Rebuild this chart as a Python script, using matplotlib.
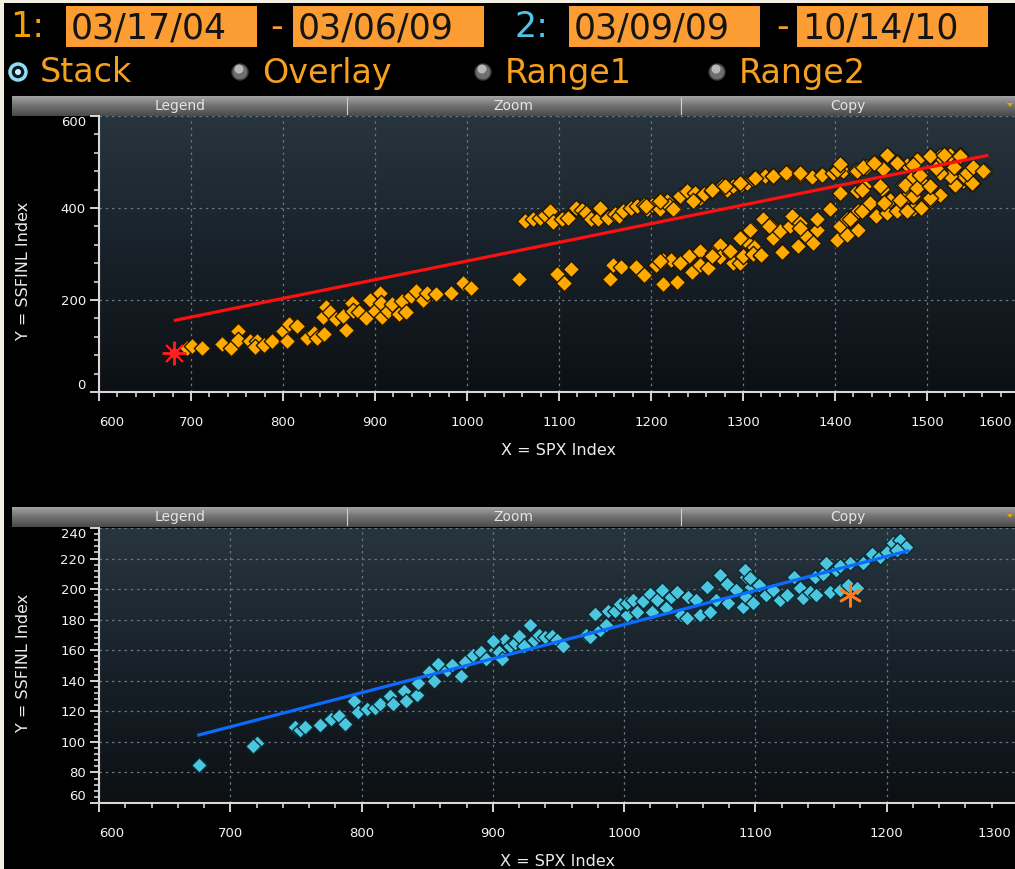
import numpy as np
import matplotlib
matplotlib.use('Agg')
import matplotlib.pyplot as plt
import matplotlib.transforms as mtransforms
from matplotlib.patches import Rectangle, Circle, Polygon
from matplotlib.colors import LinearSegmentedColormap

# header values
range1 = ['03/17/04', '03/06/09']
range2 = ['03/09/09', '10/14/10']
modes = ['Stack', 'Overlay', 'Range1', 'Range2']
bar_labels = ['Legend', 'Zoom', 'Copy']
x_label = 'X = SPX Index'
y_label = 'Y = SSFINL Index'

# range 1: SPX vs SSFINL, 03/17/04 - 03/06/09
spx1 = [696, 701, 712, 734, 743, 751, 751, 764, 772, 770, 779, 788, 800, 804, 807, 815, 826, 834,
        837, 845, 844, 847, 851, 858, 865, 869, 875, 876, 883, 890, 895, 900, 905, 907, 908, 914,
        918, 926, 929, 934, 939, 945, 952, 956, 966, 983, 996, 1004, 1056,
        1098, 1105, 1113, 1155, 1159, 1167, 1184, 1192, 1205, 1213, 1213, 1228, 1222, 1233, 1241,
        1245, 1253, 1253, 1262, 1267, 1275, 1275, 1286, 1289, 1297, 1300, 1309, 1311,
        1297, 1300, 1302, 1308, 1311, 1320, 1322, 1329, 1333, 1340, 1342, 1351, 1353, 1360, 1362,
        1369, 1376, 1380, 1380, 1395, 1402, 1405, 1413, 1413, 1425, 1425, 1434, 1445, 1456, 1467,
        1485, 1494, 1405, 1424, 1431, 1451, 1460, 1474, 1478, 1483, 1496, 1503, 1514, 1529, 1539,
        1548, 1550, 1540,
        1210, 1232, 1266, 1320, 1328, 1362, 1416, 1429, 1438, 1453, 1471, 1485, 1503, 1429, 1449,
        1476, 1489, 1503, 1530, 1549, 1543, 1525, 1514, 1492, 1266, 1286, 1297, 1342, 1478,
        1063, 1072, 1079, 1085, 1090, 1094, 1103, 1110, 1119, 1125, 1129, 1135, 1142, 1145, 1153,
        1161, 1165, 1170, 1178, 1185, 1192, 1196, 1201, 1210, 1217, 1220, 1226, 1232, 1239, 1248,
        1253, 1258, 1266, 1277, 1283, 1289, 1298, 1304, 1311, 1313, 1324, 1333, 1349, 1362, 1375,
        1386, 1398, 1409, 1422, 1434, 1443, 1452, 1456, 1467, 1478, 1489, 1503, 1510, 1514, 1525,
        1529, 1536, 1550, 1563, 1561,
        1195, 1210, 1224, 1246, 1266, 1280, 1297, 1313, 1333, 1347, 1362, 1402, 1405, 1424, 1430,
        1442, 1456, 1467, 1485, 1503, 1518, 1536]
fin1 = [95, 100, 95, 104, 95, 133, 113, 111, 111, 97, 102, 111, 133, 111, 147, 144, 118, 129,
        118, 126, 162, 184, 173, 158, 165, 135, 194, 176, 173, 160, 201, 176, 216, 194, 162, 176,
        191, 169, 198, 173, 209, 219, 201, 216, 212, 216, 236, 225, 246,
        256, 238, 268, 245, 277, 272, 272, 254, 277, 234, 287, 239, 287, 281, 295,
        261, 306, 277, 270, 303, 319, 294, 303, 280, 337, 294, 355, 317,
        281, 295, 331, 353, 299, 295, 375, 364, 335, 350, 306, 360, 382, 317, 368,
        339, 324, 353, 375, 398, 331, 360, 342, 375, 353, 393, 400, 382, 389, 393,
        397, 400, 433, 436, 447, 441, 418, 451, 425, 462, 454, 418, 429, 451, 458,
        454, 455, 470,
        285, 281, 295, 297, 360, 357, 375, 393, 411, 411, 418, 425, 422, 440, 447,
        451, 444, 447, 451, 454, 476, 469, 476, 472, 295, 306, 335, 304, 393,
        371, 375, 379, 385, 393, 369, 375, 379, 400, 395, 389, 375, 376, 400, 379,
        388, 382, 393, 400, 404, 407, 398, 407, 397, 415, 405, 397, 425, 436, 433,
        422, 430, 436, 447, 440, 447, 451, 454, 462, 465, 469, 470, 476, 472, 467,
        472, 476, 480, 480, 490, 498, 485, 512, 499, 494, 505, 512, 487, 512, 516,
        490, 516, 490, 480, 480,
        404, 415, 397, 415, 440, 447, 454, 465, 469, 476, 476, 483, 495, 480, 490,
        498, 516, 498, 494, 512, 516, 512]
fit1_x = [683, 1565]
fit1_y = [156, 514]
last1_x, last1_y = 681, 84

# range 2: SPX vs SSFINL, 03/09/09 - 10/14/10
spx2 = [676, 720, 717.5, 749, 753, 757, 768, 777, 783, 787, 794, 797, 804, 810, 814, 822, 824,
        832, 834, 842, 843, 851, 855, 858, 865, 869, 876, 879, 885, 891, 895, 902, 905, 909, 907,
        900, 913, 917, 920, 924, 928, 931, 935, 940, 945, 948.5, 953.5, 971, 974, 978, 981.5,
        986.5, 988, 993, 997, 1002, 1002, 1007, 1009.5, 1014.5, 1019.5, 1021, 1025, 1028.5, 1032,
        1036, 1040, 1043.5, 1047.5, 1049, 1055, 1058, 1063, 1065.5, 1070, 1073, 1078, 1079,
        1085.5, 1090.5, 1093, 1097, 1092, 1096, 1093, 1098, 1103, 1108, 1113.5, 1118.5, 1124,
        1129, 1134, 1136.5, 1141.5, 1146.5, 1145, 1151.5, 1157, 1164.5, 1170.5, 1177, 1161.5,
        1172, 1182, 1188.5, 1195, 1200, 1205, 1210, 1215, 1207.5, 1154, 1164.5]
fin2 = [85, 99.5, 97, 110, 108, 110, 111, 115, 117, 112, 127, 119.5, 121.5, 122, 124.5, 130, 124.5,
        133, 126.5, 131, 138.5, 146, 140, 151, 147, 150.5, 143, 152.5, 157, 159, 154, 160, 159, 167, 154,
        166, 162.5, 164.5, 169.5, 162.5, 176.5, 167, 170, 168.5, 169.5, 167, 162.5, 170, 168.5, 184, 173,
        176.5, 186, 186, 190, 183, 191, 193, 185, 192, 197, 185, 193, 199.5, 187.5,
        195, 198, 183, 181, 195, 193, 183, 201.5, 185, 193, 209, 203.5, 191,
        199.5, 188.5, 208, 201.5, 212.5, 207, 195, 191, 202.5, 196, 199.5, 193, 196,
        208, 200.5, 194, 198, 196, 208, 210, 198, 199.5, 202.5, 200.5, 212.5,
        217, 217, 223, 221, 224, 230, 232, 227.5, 225.5, 217, 215]
fit2_x = [676, 1216]
fit2_y = [104.5, 225]
last2_x, last2_y = 1172, 196

W, H = 1015, 869
fig = plt.figure(figsize=(W / 100, H / 100), dpi=100, facecolor='black')

# overlay in pixel coordinates for the terminal chrome
bg = fig.add_axes([0, 0, 1, 1])
bg.axis('off')

bg.add_patch(Rectangle((0, 0), 4, H, fc='#f3efe2', ec='none'))
bg.add_patch(Rectangle((0, 0), W, 3, fc='#f3efe2', ec='none'))

box_orange = '#fb9d33'
hdr_font = dict(fontsize=25, va='center', family='DejaVu Sans')
bg.text(10, 27, '1:', color='#f0a200', **hdr_font)
bg.text(515, 27, '2:', color='#4fc3e8', **hdr_font)
for x0, txt in zip([66, 293, 569, 797], range1 + range2):
    bg.add_patch(Rectangle((x0, 6), 191, 41, fc=box_orange, ec='none'))
    bg.text(x0 + 5, 28, txt, color='#141414', **hdr_font)
for xd in [270, 776]:
    bg.text(xd, 27, '-', color=box_orange, **hdr_font)

# radio buttons
radio_x = [18, 240, 483, 717]
for i, (rx, name) in enumerate(zip(radio_x, modes)):
    if i == 0:
        bg.add_patch(Circle((rx, 72), 8, fc='#0b1820', ec='#8fdcf5', lw=2.5))
        bg.add_patch(Circle((rx, 72), 3, fc='#c9eefa', ec='none'))
    else:
        bg.add_patch(Circle((rx, 72), 8, fc='#6e6e6e', ec='#3a3a3a', lw=1))
        bg.add_patch(Circle((rx - 1, 69), 4.5, fc='#b8b8b8', ec='none'))
    bg.text(rx + 22, 73, name, color='#f5a020', fontsize=24, va='center')

# gray toolbars above each chart
bar_cmap = LinearSegmentedColormap.from_list('bar', ['#a2a2a2', '#707070', '#4a4a4a'])
for y0 in [96, 507]:
    bg.imshow(np.linspace(0, 1, 32).reshape(-1, 1), cmap=bar_cmap, aspect='auto',
              extent=[12, W, y0 + 20, y0], zorder=1)
    for sx in [347, 681]:
        bg.plot([sx, sx], [y0 + 2, y0 + 18], color='#d0d0d0', lw=0.8, zorder=2)
    for lx, lab in zip([180, 513, 848], bar_labels):
        bg.text(lx, y0 + 10, lab, color='#e4e4e4', fontsize=10, ha='center', va='center', zorder=3)
    bg.add_patch(Polygon([[1007, y0 + 7], [1013, y0 + 7], [1010, y0 + 11]], fc='#f0a000',
                         ec='none', zorder=3))

bg.set_xlim(0, W)
bg.set_ylim(H, 0)

plot_cmap = LinearSegmentedColormap.from_list('plot', ['#27353f', '#182129', '#0c1013'])


def style_axes(ax, xlim, ylim, xmaj, xmin, ymaj, ymin):
    ax.set_facecolor('#10161a')
    ax.imshow(np.linspace(0, 1, 256).reshape(-1, 1), cmap=plot_cmap, aspect='auto',
              extent=[0, 1, 0, 1], transform=ax.transAxes, zorder=0)
    ax.set_xticks(xmaj)
    ax.set_xticklabels([str(v) for v in xmaj])
    ax.set_xticks(xmin, minor=True)
    ax.set_yticks(ymaj)
    ax.set_yticklabels([str(v) for v in ymaj])
    ax.set_yticks(ymin, minor=True)
    ax.set_xlim(*xlim)
    ax.set_ylim(*ylim)
    for s in ['top', 'right']:
        ax.spines[s].set_visible(False)
    for s in ['left', 'bottom']:
        ax.spines[s].set_color('#d8d8d8')
        ax.spines[s].set_linewidth(1.5)
    ax.tick_params(which='major', direction='out', length=6.5, width=1.3, color='#e6e6e6',
                   labelcolor='#f4f4f4', labelsize=9.5)
    ax.tick_params(which='minor', direction='out', length=3.5, width=1.1, color='#e6e6e6')
    ax.tick_params(axis='x', which='major', pad=11)
    ax.tick_params(axis='y', which='major', pad=3)
    xl = ax.get_xticklabels()
    xl[0].set_ha('left')
    xl[-1].set_ha('right')
    xl[-1].set_transform(xl[-1].get_transform() +
                         mtransforms.ScaledTranslation(-7 / 100, 0, fig.dpi_scale_trans))
    yl = ax.get_yticklabels()
    yl[0].set_va('bottom')
    yl[-1].set_va('top')
    ax.set_axisbelow(True)
    ax.grid(which='major', color='#6b7681', linestyle=(0, (2, 3)), linewidth=0.9)
    ax.set_xlabel(x_label, color='#ececec', fontsize=11.5)
    ax.set_ylabel(y_label, color='#ececec', fontsize=11.5)
    ax.xaxis.set_label_coords(0.499, -0.185)


ax1 = fig.add_axes([99 / W, 1 - 392 / H, 920 / W, 276 / H])
ax1.scatter(spx1, fin1, marker='D', s=70, c='#ffaa00', edgecolors='#241800', linewidths=1.0, zorder=2)
ax1.plot(fit1_x, fit1_y, color='#ff1010', lw=2.3, zorder=3)
ax1.plot([last1_x], [last1_y], marker=(8, 2, 0), ms=17, mew=1.4, color='#ff1a1a', zorder=4)
ax1.plot([last1_x], [last1_y], marker='o', ms=6, color='#ff2020', zorder=4)
style_axes(ax1, (600, 1600), (0, 600), list(range(600, 1601, 100)), list(range(600, 1601, 20)),
           [0, 200, 400, 600], list(range(0, 601, 40)))
ax1.yaxis.set_label_coords(-0.074, 0.44)

ax2 = fig.add_axes([99 / W, 1 - 803 / H, 919 / W, 275 / H])
ax2.scatter(spx2, fin2, marker='D', s=62, c='#4cc6de', edgecolors='#0a2a33', linewidths=1.0, zorder=2)
ax2.plot(fit2_x, fit2_y, color='#0a6cff', lw=2.3, zorder=3)
ax2.plot([last2_x], [last2_y], marker=(6, 2, 0), ms=17, mew=1.8, color='#ff7a1a', zorder=4)
style_axes(ax2, (600, 1300), (60, 240), list(range(600, 1301, 100)), list(range(600, 1301, 20)),
           list(range(60, 241, 20)), list(range(60, 241, 4)))
ax2.yaxis.set_label_coords(-0.074, 0.51)

fig.savefig('out.png', dpi=100, facecolor='black')
